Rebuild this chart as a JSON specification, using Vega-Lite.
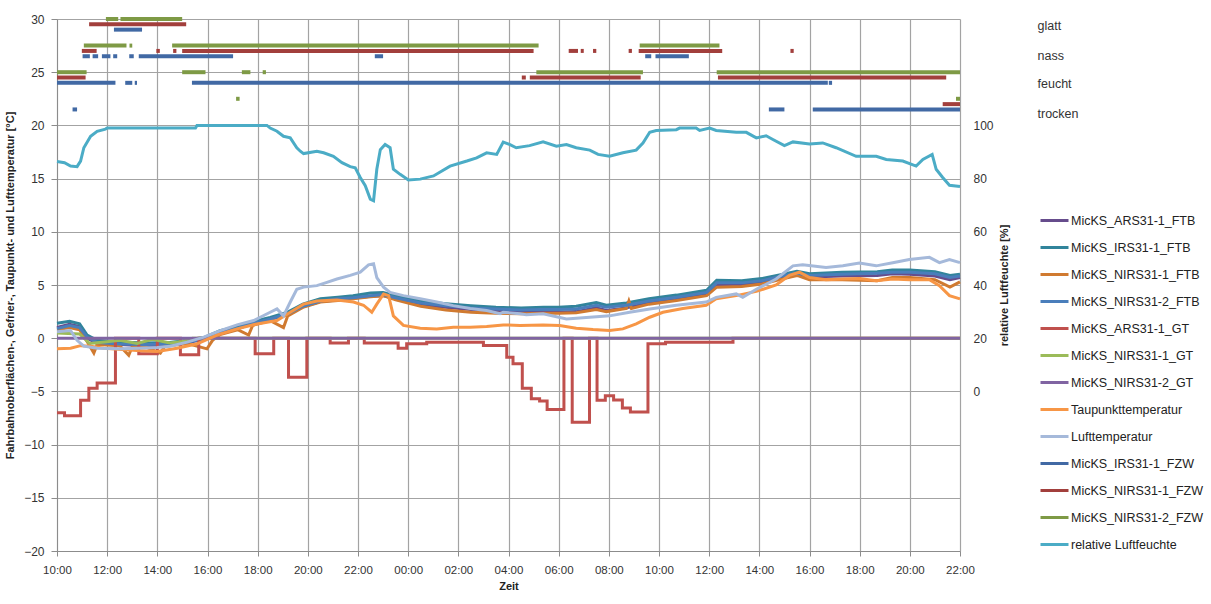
{
  "$schema": "https://vega.github.io/schema/vega-lite/v6.json",
  "width": 903,
  "height": 532,
  "autosize": {"type": "none"},
  "padding": {"left": 57, "top": 19, "right": 251, "bottom": 53},
  "background": "white",
  "config": {
    "font": "Liberation Sans",
    "view": {"stroke": null},
    "axis": {"labelFont": "Liberation Sans", "titleFont": "Liberation Sans", "labelColor": "#333333", "titleColor": "#222222", "gridColor": "#A3A3A3", "gridWidth": 1.2, "domainColor": "#8C8C8C", "tickColor": "#8C8C8C"}
  },
  "datasets": {
    "ftb": [
      {"s":"MicKS_ARS31-1_FTB","h":10.0,"v":1.0},{"s":"MicKS_ARS31-1_FTB","h":10.5,"v":1.3},{"s":"MicKS_ARS31-1_FTB","h":10.9,"v":1.1},{"s":"MicKS_ARS31-1_FTB","h":11.2,"v":0.0},{"s":"MicKS_ARS31-1_FTB","h":11.6,"v":-0.5},{"s":"MicKS_ARS31-1_FTB","h":12.5,"v":-0.6},{"s":"MicKS_ARS31-1_FTB","h":13.5,"v":-0.7},{"s":"MicKS_ARS31-1_FTB","h":14.5,"v":-0.6},{"s":"MicKS_ARS31-1_FTB","h":15.2,"v":-0.4},{"s":"MicKS_ARS31-1_FTB","h":15.9,"v":-0.1},{"s":"MicKS_ARS31-1_FTB","h":16.5,"v":0.45},{"s":"MicKS_ARS31-1_FTB","h":17.2,"v":0.9},{"s":"MicKS_ARS31-1_FTB","h":17.8,"v":1.35},{"s":"MicKS_ARS31-1_FTB","h":18.5,"v":1.75},{"s":"MicKS_ARS31-1_FTB","h":19.2,"v":2.25},{"s":"MicKS_ARS31-1_FTB","h":19.8,"v":2.95},{"s":"MicKS_ARS31-1_FTB","h":20.5,"v":3.45},{"s":"MicKS_ARS31-1_FTB","h":21.2,"v":3.6},{"s":"MicKS_ARS31-1_FTB","h":21.8,"v":3.75},{"s":"MicKS_ARS31-1_FTB","h":22.5,"v":3.95},{"s":"MicKS_ARS31-1_FTB","h":23.0,"v":4.0},{"s":"MicKS_ARS31-1_FTB","h":23.5,"v":3.7},{"s":"MicKS_ARS31-1_FTB","h":24.5,"v":3.15},{"s":"MicKS_ARS31-1_FTB","h":25.5,"v":2.9},{"s":"MicKS_ARS31-1_FTB","h":26.5,"v":2.7},{"s":"MicKS_ARS31-1_FTB","h":27.5,"v":2.55},{"s":"MicKS_ARS31-1_FTB","h":28.5,"v":2.45},{"s":"MicKS_ARS31-1_FTB","h":29.4,"v":2.5},{"s":"MicKS_ARS31-1_FTB","h":30.0,"v":2.45},{"s":"MicKS_ARS31-1_FTB","h":30.7,"v":2.5},{"s":"MicKS_ARS31-1_FTB","h":31.5,"v":2.85},{"s":"MicKS_ARS31-1_FTB","h":31.9,"v":2.6},{"s":"MicKS_ARS31-1_FTB","h":32.7,"v":2.85},{"s":"MicKS_ARS31-1_FTB","h":33.6,"v":3.3},{"s":"MicKS_ARS31-1_FTB","h":34.7,"v":3.7},{"s":"MicKS_ARS31-1_FTB","h":35.9,"v":4.1},{"s":"MicKS_ARS31-1_FTB","h":36.3,"v":5.0},{"s":"MicKS_ARS31-1_FTB","h":37.3,"v":5.0},{"s":"MicKS_ARS31-1_FTB","h":38.1,"v":5.25},{"s":"MicKS_ARS31-1_FTB","h":38.9,"v":5.7},{"s":"MicKS_ARS31-1_FTB","h":39.5,"v":6.0},{"s":"MicKS_ARS31-1_FTB","h":40.0,"v":5.75},{"s":"MicKS_ARS31-1_FTB","h":41.3,"v":5.85},{"s":"MicKS_ARS31-1_FTB","h":42.7,"v":5.9},{"s":"MicKS_ARS31-1_FTB","h":43.3,"v":6.05},{"s":"MicKS_ARS31-1_FTB","h":44.0,"v":6.0},{"s":"MicKS_ARS31-1_FTB","h":45.0,"v":5.85},{"s":"MicKS_ARS31-1_FTB","h":45.6,"v":5.5},{"s":"MicKS_ARS31-1_FTB","h":46.0,"v":5.7},
      {"s":"MicKS_IRS31-1_FTB","h":10.0,"v":1.4},{"s":"MicKS_IRS31-1_FTB","h":10.5,"v":1.6},{"s":"MicKS_IRS31-1_FTB","h":10.9,"v":1.35},{"s":"MicKS_IRS31-1_FTB","h":11.2,"v":0.3},{"s":"MicKS_IRS31-1_FTB","h":11.6,"v":-0.2},{"s":"MicKS_IRS31-1_FTB","h":12.5,"v":-0.35},{"s":"MicKS_IRS31-1_FTB","h":13.5,"v":-0.45},{"s":"MicKS_IRS31-1_FTB","h":14.5,"v":-0.4},{"s":"MicKS_IRS31-1_FTB","h":15.2,"v":-0.2},{"s":"MicKS_IRS31-1_FTB","h":15.9,"v":0.1},{"s":"MicKS_IRS31-1_FTB","h":16.5,"v":0.7},{"s":"MicKS_IRS31-1_FTB","h":17.2,"v":1.1},{"s":"MicKS_IRS31-1_FTB","h":17.8,"v":1.55},{"s":"MicKS_IRS31-1_FTB","h":18.5,"v":1.95},{"s":"MicKS_IRS31-1_FTB","h":19.2,"v":2.45},{"s":"MicKS_IRS31-1_FTB","h":19.8,"v":3.2},{"s":"MicKS_IRS31-1_FTB","h":20.5,"v":3.7},{"s":"MicKS_IRS31-1_FTB","h":21.2,"v":3.85},{"s":"MicKS_IRS31-1_FTB","h":21.8,"v":4.0},{"s":"MicKS_IRS31-1_FTB","h":22.5,"v":4.25},{"s":"MicKS_IRS31-1_FTB","h":23.0,"v":4.3},{"s":"MicKS_IRS31-1_FTB","h":23.5,"v":4.0},{"s":"MicKS_IRS31-1_FTB","h":24.5,"v":3.5},{"s":"MicKS_IRS31-1_FTB","h":25.5,"v":3.25},{"s":"MicKS_IRS31-1_FTB","h":26.5,"v":3.05},{"s":"MicKS_IRS31-1_FTB","h":27.5,"v":2.9},{"s":"MicKS_IRS31-1_FTB","h":28.5,"v":2.85},{"s":"MicKS_IRS31-1_FTB","h":29.4,"v":2.9},{"s":"MicKS_IRS31-1_FTB","h":30.0,"v":2.9},{"s":"MicKS_IRS31-1_FTB","h":30.7,"v":3.0},{"s":"MicKS_IRS31-1_FTB","h":31.5,"v":3.35},{"s":"MicKS_IRS31-1_FTB","h":31.9,"v":3.1},{"s":"MicKS_IRS31-1_FTB","h":32.7,"v":3.3},{"s":"MicKS_IRS31-1_FTB","h":33.6,"v":3.7},{"s":"MicKS_IRS31-1_FTB","h":34.7,"v":4.05},{"s":"MicKS_IRS31-1_FTB","h":35.9,"v":4.5},{"s":"MicKS_IRS31-1_FTB","h":36.3,"v":5.45},{"s":"MicKS_IRS31-1_FTB","h":37.3,"v":5.4},{"s":"MicKS_IRS31-1_FTB","h":38.1,"v":5.6},{"s":"MicKS_IRS31-1_FTB","h":38.9,"v":6.0},{"s":"MicKS_IRS31-1_FTB","h":39.5,"v":6.3},{"s":"MicKS_IRS31-1_FTB","h":40.0,"v":6.05},{"s":"MicKS_IRS31-1_FTB","h":41.3,"v":6.2},{"s":"MicKS_IRS31-1_FTB","h":42.7,"v":6.25},{"s":"MicKS_IRS31-1_FTB","h":43.3,"v":6.4},{"s":"MicKS_IRS31-1_FTB","h":44.0,"v":6.4},{"s":"MicKS_IRS31-1_FTB","h":45.0,"v":6.25},{"s":"MicKS_IRS31-1_FTB","h":45.6,"v":5.9},{"s":"MicKS_IRS31-1_FTB","h":46.0,"v":6.0},
      {"s":"MicKS_NIRS31-1_FTB","h":10.0,"v":0.8},{"s":"MicKS_NIRS31-1_FTB","h":10.5,"v":1.0},{"s":"MicKS_NIRS31-1_FTB","h":10.9,"v":0.8},{"s":"MicKS_NIRS31-1_FTB","h":11.2,"v":-0.3},{"s":"MicKS_NIRS31-1_FTB","h":11.47,"v":-1.4},{"s":"MicKS_NIRS31-1_FTB","h":11.6,"v":-0.6},{"s":"MicKS_NIRS31-1_FTB","h":12.5,"v":-0.7},{"s":"MicKS_NIRS31-1_FTB","h":12.86,"v":-1.6},{"s":"MicKS_NIRS31-1_FTB","h":13.0,"v":-0.8},{"s":"MicKS_NIRS31-1_FTB","h":13.5,"v":-0.8},{"s":"MicKS_NIRS31-1_FTB","h":14.12,"v":-1.4},{"s":"MicKS_NIRS31-1_FTB","h":14.3,"v":-0.75},{"s":"MicKS_NIRS31-1_FTB","h":15.2,"v":-0.5},{"s":"MicKS_NIRS31-1_FTB","h":15.98,"v":-1.0},{"s":"MicKS_NIRS31-1_FTB","h":16.2,"v":-0.2},{"s":"MicKS_NIRS31-1_FTB","h":16.5,"v":0.35},{"s":"MicKS_NIRS31-1_FTB","h":17.2,"v":0.8},{"s":"MicKS_NIRS31-1_FTB","h":17.64,"v":0.3},{"s":"MicKS_NIRS31-1_FTB","h":17.8,"v":1.2},{"s":"MicKS_NIRS31-1_FTB","h":18.5,"v":1.65},{"s":"MicKS_NIRS31-1_FTB","h":19.03,"v":1.0},{"s":"MicKS_NIRS31-1_FTB","h":19.2,"v":2.1},{"s":"MicKS_NIRS31-1_FTB","h":19.8,"v":2.9},{"s":"MicKS_NIRS31-1_FTB","h":20.5,"v":3.4},{"s":"MicKS_NIRS31-1_FTB","h":21.2,"v":3.55},{"s":"MicKS_NIRS31-1_FTB","h":21.8,"v":3.7},{"s":"MicKS_NIRS31-1_FTB","h":22.5,"v":3.9},{"s":"MicKS_NIRS31-1_FTB","h":23.0,"v":4.0},{"s":"MicKS_NIRS31-1_FTB","h":23.5,"v":3.6},{"s":"MicKS_NIRS31-1_FTB","h":24.5,"v":3.0},{"s":"MicKS_NIRS31-1_FTB","h":25.5,"v":2.65},{"s":"MicKS_NIRS31-1_FTB","h":26.5,"v":2.45},{"s":"MicKS_NIRS31-1_FTB","h":27.5,"v":2.35},{"s":"MicKS_NIRS31-1_FTB","h":28.5,"v":2.3},{"s":"MicKS_NIRS31-1_FTB","h":29.4,"v":2.35},{"s":"MicKS_NIRS31-1_FTB","h":30.0,"v":2.35},{"s":"MicKS_NIRS31-1_FTB","h":30.7,"v":2.4},{"s":"MicKS_NIRS31-1_FTB","h":31.5,"v":2.7},{"s":"MicKS_NIRS31-1_FTB","h":31.9,"v":2.5},{"s":"MicKS_NIRS31-1_FTB","h":32.7,"v":2.8},{"s":"MicKS_NIRS31-1_FTB","h":32.8,"v":3.5},{"s":"MicKS_NIRS31-1_FTB","h":32.9,"v":2.8},{"s":"MicKS_NIRS31-1_FTB","h":33.6,"v":3.2},{"s":"MicKS_NIRS31-1_FTB","h":34.7,"v":3.55},{"s":"MicKS_NIRS31-1_FTB","h":35.9,"v":4.0},{"s":"MicKS_NIRS31-1_FTB","h":36.3,"v":4.8},{"s":"MicKS_NIRS31-1_FTB","h":37.3,"v":4.85},{"s":"MicKS_NIRS31-1_FTB","h":38.1,"v":5.1},{"s":"MicKS_NIRS31-1_FTB","h":38.9,"v":5.55},{"s":"MicKS_NIRS31-1_FTB","h":39.5,"v":5.9},{"s":"MicKS_NIRS31-1_FTB","h":40.0,"v":5.5},{"s":"MicKS_NIRS31-1_FTB","h":41.3,"v":5.5},{"s":"MicKS_NIRS31-1_FTB","h":42.7,"v":5.4},{"s":"MicKS_NIRS31-1_FTB","h":43.3,"v":5.7},{"s":"MicKS_NIRS31-1_FTB","h":44.0,"v":5.7},{"s":"MicKS_NIRS31-1_FTB","h":45.0,"v":5.5},{"s":"MicKS_NIRS31-1_FTB","h":45.6,"v":4.8},{"s":"MicKS_NIRS31-1_FTB","h":46.0,"v":5.3},
      {"s":"MicKS_NIRS31-2_FTB","h":10.0,"v":0.9},{"s":"MicKS_NIRS31-2_FTB","h":10.5,"v":1.2},{"s":"MicKS_NIRS31-2_FTB","h":10.9,"v":1.0},{"s":"MicKS_NIRS31-2_FTB","h":11.2,"v":0.1},{"s":"MicKS_NIRS31-2_FTB","h":11.6,"v":-0.4},{"s":"MicKS_NIRS31-2_FTB","h":12.5,"v":-0.55},{"s":"MicKS_NIRS31-2_FTB","h":13.5,"v":-0.6},{"s":"MicKS_NIRS31-2_FTB","h":14.5,"v":-0.55},{"s":"MicKS_NIRS31-2_FTB","h":15.2,"v":-0.35},{"s":"MicKS_NIRS31-2_FTB","h":15.9,"v":-0.05},{"s":"MicKS_NIRS31-2_FTB","h":16.5,"v":0.5},{"s":"MicKS_NIRS31-2_FTB","h":17.2,"v":0.95},{"s":"MicKS_NIRS31-2_FTB","h":17.8,"v":1.4},{"s":"MicKS_NIRS31-2_FTB","h":18.5,"v":1.8},{"s":"MicKS_NIRS31-2_FTB","h":19.2,"v":2.3},{"s":"MicKS_NIRS31-2_FTB","h":19.8,"v":3.0},{"s":"MicKS_NIRS31-2_FTB","h":20.5,"v":3.5},{"s":"MicKS_NIRS31-2_FTB","h":21.2,"v":3.7},{"s":"MicKS_NIRS31-2_FTB","h":21.8,"v":3.8},{"s":"MicKS_NIRS31-2_FTB","h":22.5,"v":4.0},{"s":"MicKS_NIRS31-2_FTB","h":23.0,"v":4.1},{"s":"MicKS_NIRS31-2_FTB","h":23.5,"v":3.8},{"s":"MicKS_NIRS31-2_FTB","h":24.5,"v":3.3},{"s":"MicKS_NIRS31-2_FTB","h":25.5,"v":3.05},{"s":"MicKS_NIRS31-2_FTB","h":26.5,"v":2.85},{"s":"MicKS_NIRS31-2_FTB","h":27.5,"v":2.75},{"s":"MicKS_NIRS31-2_FTB","h":28.5,"v":2.65},{"s":"MicKS_NIRS31-2_FTB","h":29.4,"v":2.7},{"s":"MicKS_NIRS31-2_FTB","h":30.0,"v":2.7},{"s":"MicKS_NIRS31-2_FTB","h":30.7,"v":2.75},{"s":"MicKS_NIRS31-2_FTB","h":31.5,"v":3.1},{"s":"MicKS_NIRS31-2_FTB","h":31.9,"v":2.9},{"s":"MicKS_NIRS31-2_FTB","h":32.7,"v":3.1},{"s":"MicKS_NIRS31-2_FTB","h":33.6,"v":3.5},{"s":"MicKS_NIRS31-2_FTB","h":34.7,"v":3.85},{"s":"MicKS_NIRS31-2_FTB","h":35.9,"v":4.3},{"s":"MicKS_NIRS31-2_FTB","h":36.3,"v":5.2},{"s":"MicKS_NIRS31-2_FTB","h":37.3,"v":5.2},{"s":"MicKS_NIRS31-2_FTB","h":38.1,"v":5.4},{"s":"MicKS_NIRS31-2_FTB","h":38.9,"v":5.85},{"s":"MicKS_NIRS31-2_FTB","h":39.5,"v":6.1},{"s":"MicKS_NIRS31-2_FTB","h":40.0,"v":5.9},{"s":"MicKS_NIRS31-2_FTB","h":41.3,"v":6.0},{"s":"MicKS_NIRS31-2_FTB","h":42.7,"v":6.1},{"s":"MicKS_NIRS31-2_FTB","h":43.3,"v":6.2},{"s":"MicKS_NIRS31-2_FTB","h":44.0,"v":6.2},{"s":"MicKS_NIRS31-2_FTB","h":45.0,"v":6.05},{"s":"MicKS_NIRS31-2_FTB","h":45.6,"v":5.7},{"s":"MicKS_NIRS31-2_FTB","h":46.0,"v":5.85}
    ],
    "gt": [
      {"s":"MicKS_ARS31-1_GT","h":10.0,"v":-7.0},{"s":"MicKS_ARS31-1_GT","h":10.3,"v":-7.3},{"s":"MicKS_ARS31-1_GT","h":10.94,"v":-5.84},{"s":"MicKS_ARS31-1_GT","h":11.27,"v":-4.7},{"s":"MicKS_ARS31-1_GT","h":11.6,"v":-4.2},{"s":"MicKS_ARS31-1_GT","h":12.33,"v":0},{"s":"MicKS_ARS31-1_GT","h":13.26,"v":-1.47},{"s":"MicKS_ARS31-1_GT","h":14.0,"v":0},{"s":"MicKS_ARS31-1_GT","h":14.92,"v":-1.56},{"s":"MicKS_ARS31-1_GT","h":15.65,"v":0},{"s":"MicKS_ARS31-1_GT","h":17.9,"v":-1.47},{"s":"MicKS_ARS31-1_GT","h":18.64,"v":0},{"s":"MicKS_ARS31-1_GT","h":19.23,"v":-3.66},{"s":"MicKS_ARS31-1_GT","h":19.96,"v":0},{"s":"MicKS_ARS31-1_GT","h":20.89,"v":-0.44},{"s":"MicKS_ARS31-1_GT","h":21.62,"v":0},{"s":"MicKS_ARS31-1_GT","h":22.25,"v":-0.44},{"s":"MicKS_ARS31-1_GT","h":23.6,"v":-0.94},{"s":"MicKS_ARS31-1_GT","h":23.94,"v":-0.53},{"s":"MicKS_ARS31-1_GT","h":24.74,"v":-0.375},{"s":"MicKS_ARS31-1_GT","h":27.0,"v":-0.69},{"s":"MicKS_ARS31-1_GT","h":27.93,"v":-1.78},{"s":"MicKS_ARS31-1_GT","h":28.18,"v":-2.4},{"s":"MicKS_ARS31-1_GT","h":28.55,"v":-4.7},{"s":"MicKS_ARS31-1_GT","h":28.91,"v":-5.7},{"s":"MicKS_ARS31-1_GT","h":29.24,"v":-5.9},{"s":"MicKS_ARS31-1_GT","h":29.54,"v":-6.7},{"s":"MicKS_ARS31-1_GT","h":30.21,"v":0},{"s":"MicKS_ARS31-1_GT","h":30.54,"v":-7.9},{"s":"MicKS_ARS31-1_GT","h":31.23,"v":0},{"s":"MicKS_ARS31-1_GT","h":31.53,"v":-5.84},{"s":"MicKS_ARS31-1_GT","h":31.86,"v":-5.4},{"s":"MicKS_ARS31-1_GT","h":32.19,"v":-5.8},{"s":"MicKS_ARS31-1_GT","h":32.54,"v":-6.56},{"s":"MicKS_ARS31-1_GT","h":32.86,"v":-6.94},{"s":"MicKS_ARS31-1_GT","h":33.56,"v":-0.53},{"s":"MicKS_ARS31-1_GT","h":34.26,"v":-0.375},{"s":"MicKS_ARS31-1_GT","h":36.95,"v":0},{"s":"MicKS_ARS31-1_GT","h":46.0,"v":0}
    ],
    "oth": [
      {"s":"MicKS_NIRS31-1_GT","h":10.0,"v":0.5},{"s":"MicKS_NIRS31-1_GT","h":10.9,"v":0.4},{"s":"MicKS_NIRS31-1_GT","h":11.3,"v":-0.5},{"s":"MicKS_NIRS31-1_GT","h":11.9,"v":-0.35},{"s":"MicKS_NIRS31-1_GT","h":12.5,"v":-0.2},{"s":"MicKS_NIRS31-1_GT","h":13.2,"v":-0.5},{"s":"MicKS_NIRS31-1_GT","h":13.8,"v":-0.1},{"s":"MicKS_NIRS31-1_GT","h":14.5,"v":-0.45},{"s":"MicKS_NIRS31-1_GT","h":15.0,"v":-0.3},{"s":"MicKS_NIRS31-1_GT","h":15.4,"v":0.0},{"s":"MicKS_NIRS31-1_GT","h":46.0,"v":0.0},
      {"s":"MicKS_NIRS31-2_GT","h":10.0,"v":0},{"s":"MicKS_NIRS31-2_GT","h":46.0,"v":0},
      {"s":"Taupunkttemperatur","h":10.0,"v":-1.0},{"s":"Taupunkttemperatur","h":10.54,"v":-0.94},{"s":"Taupunkttemperatur","h":10.94,"v":-0.7},{"s":"Taupunkttemperatur","h":11.34,"v":-0.75},{"s":"Taupunkttemperatur","h":11.87,"v":-0.94},{"s":"Taupunkttemperatur","h":13.19,"v":-1.16},{"s":"Taupunkttemperatur","h":13.99,"v":-1.25},{"s":"Taupunkttemperatur","h":14.79,"v":-0.94},{"s":"Taupunkttemperatur","h":15.59,"v":-0.53},{"s":"Taupunkttemperatur","h":16.38,"v":0.3},{"s":"Taupunkttemperatur","h":17.18,"v":0.875},{"s":"Taupunkttemperatur","h":17.97,"v":1.34},{"s":"Taupunkttemperatur","h":18.77,"v":1.66},{"s":"Taupunkttemperatur","h":19.3,"v":2.44},{"s":"Taupunkttemperatur","h":19.83,"v":3.2},{"s":"Taupunkttemperatur","h":20.36,"v":3.5},{"s":"Taupunkttemperatur","h":21.16,"v":3.6},{"s":"Taupunkttemperatur","h":21.82,"v":3.4},{"s":"Taupunkttemperatur","h":22.22,"v":3.1},{"s":"Taupunkttemperatur","h":22.55,"v":2.44},{"s":"Taupunkttemperatur","h":22.75,"v":3.2},{"s":"Taupunkttemperatur","h":23.02,"v":4.16},{"s":"Taupunkttemperatur","h":23.22,"v":4.0},{"s":"Taupunkttemperatur","h":23.41,"v":2.1},{"s":"Taupunkttemperatur","h":23.81,"v":1.2},{"s":"Taupunkttemperatur","h":24.48,"v":0.94},{"s":"Taupunkttemperatur","h":25.14,"v":0.875},{"s":"Taupunkttemperatur","h":25.8,"v":1.03},{"s":"Taupunkttemperatur","h":26.47,"v":1.03},{"s":"Taupunkttemperatur","h":27.13,"v":1.1},{"s":"Taupunkttemperatur","h":27.79,"v":1.25},{"s":"Taupunkttemperatur","h":28.46,"v":1.2},{"s":"Taupunkttemperatur","h":29.38,"v":1.25},{"s":"Taupunkttemperatur","h":30.04,"v":1.2},{"s":"Taupunkttemperatur","h":30.7,"v":0.94},{"s":"Taupunkttemperatur","h":31.37,"v":0.81},{"s":"Taupunkttemperatur","h":32.03,"v":0.72},{"s":"Taupunkttemperatur","h":32.56,"v":0.875},{"s":"Taupunkttemperatur","h":33.09,"v":1.34},{"s":"Taupunkttemperatur","h":33.63,"v":1.97},{"s":"Taupunkttemperatur","h":34.16,"v":2.44},{"s":"Taupunkttemperatur","h":34.95,"v":2.8},{"s":"Taupunkttemperatur","h":35.88,"v":3.1},{"s":"Taupunkttemperatur","h":36.28,"v":3.7},{"s":"Taupunkttemperatur","h":37.08,"v":4.0},{"s":"Taupunkttemperatur","h":37.88,"v":4.4},{"s":"Taupunkttemperatur","h":38.67,"v":5.0},{"s":"Taupunkttemperatur","h":39.2,"v":5.9},{"s":"Taupunkttemperatur","h":39.6,"v":6.2},{"s":"Taupunkttemperatur","h":40.0,"v":5.7},{"s":"Taupunkttemperatur","h":40.66,"v":5.5},{"s":"Taupunkttemperatur","h":41.33,"v":5.56},{"s":"Taupunkttemperatur","h":41.99,"v":5.6},{"s":"Taupunkttemperatur","h":42.66,"v":5.4},{"s":"Taupunkttemperatur","h":43.32,"v":5.56},{"s":"Taupunkttemperatur","h":43.98,"v":5.5},{"s":"Taupunkttemperatur","h":44.78,"v":5.5},{"s":"Taupunkttemperatur","h":45.18,"v":4.94},{"s":"Taupunkttemperatur","h":45.58,"v":4.0},{"s":"Taupunkttemperatur","h":46.0,"v":3.7},
      {"s":"Lufttemperatur","h":10.0,"v":0.6},{"s":"Lufttemperatur","h":10.54,"v":0.72},{"s":"Lufttemperatur","h":10.8,"v":-0.2},{"s":"Lufttemperatur","h":11.07,"v":-0.75},{"s":"Lufttemperatur","h":11.6,"v":-0.94},{"s":"Lufttemperatur","h":12.53,"v":-1.0},{"s":"Lufttemperatur","h":13.19,"v":-0.94},{"s":"Lufttemperatur","h":13.99,"v":-0.87},{"s":"Lufttemperatur","h":14.52,"v":-0.75},{"s":"Lufttemperatur","h":15.19,"v":-0.37},{"s":"Lufttemperatur","h":15.85,"v":0.1},{"s":"Lufttemperatur","h":16.51,"v":0.72},{"s":"Lufttemperatur","h":17.18,"v":1.25},{"s":"Lufttemperatur","h":17.84,"v":1.66},{"s":"Lufttemperatur","h":18.5,"v":2.44},{"s":"Lufttemperatur","h":18.77,"v":2.75},{"s":"Lufttemperatur","h":19.03,"v":2.1},{"s":"Lufttemperatur","h":19.3,"v":3.4},{"s":"Lufttemperatur","h":19.56,"v":4.6},{"s":"Lufttemperatur","h":19.83,"v":4.8},{"s":"Lufttemperatur","h":20.36,"v":4.94},{"s":"Lufttemperatur","h":20.76,"v":5.25},{"s":"Lufttemperatur","h":21.16,"v":5.56},{"s":"Lufttemperatur","h":21.69,"v":5.9},{"s":"Lufttemperatur","h":22.09,"v":6.2},{"s":"Lufttemperatur","h":22.42,"v":6.9},{"s":"Lufttemperatur","h":22.62,"v":7.0},{"s":"Lufttemperatur","h":22.75,"v":5.7},{"s":"Lufttemperatur","h":23.02,"v":4.8},{"s":"Lufttemperatur","h":23.28,"v":4.3},{"s":"Lufttemperatur","h":23.81,"v":4.0},{"s":"Lufttemperatur","h":24.48,"v":3.7},{"s":"Lufttemperatur","h":25.14,"v":3.4},{"s":"Lufttemperatur","h":25.8,"v":3.06},{"s":"Lufttemperatur","h":26.47,"v":2.8},{"s":"Lufttemperatur","h":27.13,"v":2.6},{"s":"Lufttemperatur","h":27.66,"v":2.3},{"s":"Lufttemperatur","h":27.79,"v":2.44},{"s":"Lufttemperatur","h":28.46,"v":2.3},{"s":"Lufttemperatur","h":28.71,"v":2.2},{"s":"Lufttemperatur","h":29.38,"v":2.3},{"s":"Lufttemperatur","h":30.31,"v":1.8},{"s":"Lufttemperatur","h":31.37,"v":2.0},{"s":"Lufttemperatur","h":32.03,"v":2.1},{"s":"Lufttemperatur","h":32.83,"v":2.44},{"s":"Lufttemperatur","h":33.63,"v":2.75},{"s":"Lufttemperatur","h":34.69,"v":3.1},{"s":"Lufttemperatur","h":35.88,"v":3.4},{"s":"Lufttemperatur","h":36.28,"v":3.84},{"s":"Lufttemperatur","h":37.08,"v":4.16},{"s":"Lufttemperatur","h":37.34,"v":3.84},{"s":"Lufttemperatur","h":37.88,"v":4.6},{"s":"Lufttemperatur","h":38.67,"v":5.56},{"s":"Lufttemperatur","h":39.34,"v":6.8},{"s":"Lufttemperatur","h":39.73,"v":6.9},{"s":"Lufttemperatur","h":40.66,"v":6.65},{"s":"Lufttemperatur","h":41.33,"v":6.8},{"s":"Lufttemperatur","h":41.99,"v":7.06},{"s":"Lufttemperatur","h":42.66,"v":6.8},{"s":"Lufttemperatur","h":43.32,"v":7.1},{"s":"Lufttemperatur","h":43.98,"v":7.4},{"s":"Lufttemperatur","h":44.78,"v":7.6},{"s":"Lufttemperatur","h":45.18,"v":7.1},{"s":"Lufttemperatur","h":45.58,"v":7.4},{"s":"Lufttemperatur","h":46.0,"v":7.1}
    ],
    "rh": [
      {"s":"relative Luftfeuchte","h":10.0,"v":86.4},{"s":"relative Luftfeuchte","h":10.3,"v":86.0},{"s":"relative Luftfeuchte","h":10.54,"v":84.7},{"s":"relative Luftfeuchte","h":10.8,"v":84.5},{"s":"relative Luftfeuchte","h":10.94,"v":86.6},{"s":"relative Luftfeuchte","h":11.07,"v":91.6},{"s":"relative Luftfeuchte","h":11.34,"v":95.9},{"s":"relative Luftfeuchte","h":11.6,"v":97.8},{"s":"relative Luftfeuchte","h":11.93,"v":98.6},{"s":"relative Luftfeuchte","h":12.0,"v":99.0},{"s":"relative Luftfeuchte","h":15.52,"v":99.0},{"s":"relative Luftfeuchte","h":15.58,"v":100},{"s":"relative Luftfeuchte","h":18.37,"v":100},{"s":"relative Luftfeuchte","h":18.5,"v":99},{"s":"relative Luftfeuchte","h":18.77,"v":97.8},{"s":"relative Luftfeuchte","h":19.03,"v":95.9},{"s":"relative Luftfeuchte","h":19.3,"v":95.3},{"s":"relative Luftfeuchte","h":19.56,"v":91.6},{"s":"relative Luftfeuchte","h":19.7,"v":90.3},{"s":"relative Luftfeuchte","h":19.83,"v":89.4},{"s":"relative Luftfeuchte","h":20.36,"v":90.3},{"s":"relative Luftfeuchte","h":20.63,"v":89.7},{"s":"relative Luftfeuchte","h":21.02,"v":88.4},{"s":"relative Luftfeuchte","h":21.36,"v":86},{"s":"relative Luftfeuchte","h":21.69,"v":84.5},{"s":"relative Luftfeuchte","h":21.89,"v":84.1},{"s":"relative Luftfeuchte","h":22.09,"v":80.4},{"s":"relative Luftfeuchte","h":22.29,"v":77.3},{"s":"relative Luftfeuchte","h":22.49,"v":72.3},{"s":"relative Luftfeuchte","h":22.62,"v":71.7},{"s":"relative Luftfeuchte","h":22.75,"v":83.5},{"s":"relative Luftfeuchte","h":22.89,"v":90.9},{"s":"relative Luftfeuchte","h":23.08,"v":92.8},{"s":"relative Luftfeuchte","h":23.28,"v":91.6},{"s":"relative Luftfeuchte","h":23.41,"v":83.5},{"s":"relative Luftfeuchte","h":23.68,"v":81.6},{"s":"relative Luftfeuchte","h":24.01,"v":79.5},{"s":"relative Luftfeuchte","h":24.48,"v":79.8},{"s":"relative Luftfeuchte","h":25.01,"v":81},{"s":"relative Luftfeuchte","h":25.67,"v":84.7},{"s":"relative Luftfeuchte","h":26.34,"v":86.6},{"s":"relative Luftfeuchte","h":26.73,"v":87.8},{"s":"relative Luftfeuchte","h":27.13,"v":89.7},{"s":"relative Luftfeuchte","h":27.53,"v":89.1},{"s":"relative Luftfeuchte","h":27.79,"v":93.7},{"s":"relative Luftfeuchte","h":28.06,"v":92.8},{"s":"relative Luftfeuchte","h":28.31,"v":91.6},{"s":"relative Luftfeuchte","h":28.84,"v":92.4},{"s":"relative Luftfeuchte","h":29.38,"v":93.8},{"s":"relative Luftfeuchte","h":29.91,"v":92.2},{"s":"relative Luftfeuchte","h":30.31,"v":92.8},{"s":"relative Luftfeuchte","h":30.7,"v":91.6},{"s":"relative Luftfeuchte","h":31.24,"v":90.7},{"s":"relative Luftfeuchte","h":31.57,"v":89.1},{"s":"relative Luftfeuchte","h":32.03,"v":88.4},{"s":"relative Luftfeuchte","h":32.56,"v":89.7},{"s":"relative Luftfeuchte","h":33.09,"v":90.7},{"s":"relative Luftfeuchte","h":33.36,"v":93.4},{"s":"relative Luftfeuchte","h":33.63,"v":97.4},{"s":"relative Luftfeuchte","h":33.89,"v":98.1},{"s":"relative Luftfeuchte","h":34.69,"v":98.4},{"s":"relative Luftfeuchte","h":34.82,"v":99},{"s":"relative Luftfeuchte","h":35.48,"v":99},{"s":"relative Luftfeuchte","h":35.62,"v":98.1},{"s":"relative Luftfeuchte","h":36.02,"v":99},{"s":"relative Luftfeuchte","h":36.28,"v":98.1},{"s":"relative Luftfeuchte","h":37.08,"v":97.4},{"s":"relative Luftfeuchte","h":37.48,"v":97.4},{"s":"relative Luftfeuchte","h":37.88,"v":95.3},{"s":"relative Luftfeuchte","h":38.27,"v":96.1},{"s":"relative Luftfeuchte","h":38.54,"v":94.7},{"s":"relative Luftfeuchte","h":39.0,"v":92.4},{"s":"relative Luftfeuchte","h":39.34,"v":93.8},{"s":"relative Luftfeuchte","h":40.0,"v":93.0},{"s":"relative Luftfeuchte","h":40.53,"v":93.4},{"s":"relative Luftfeuchte","h":41.06,"v":91.6},{"s":"relative Luftfeuchte","h":41.86,"v":88.4},{"s":"relative Luftfeuchte","h":42.66,"v":88.4},{"s":"relative Luftfeuchte","h":43.06,"v":87.2},{"s":"relative Luftfeuchte","h":43.72,"v":86.6},{"s":"relative Luftfeuchte","h":44.25,"v":84.7},{"s":"relative Luftfeuchte","h":44.52,"v":87.2},{"s":"relative Luftfeuchte","h":44.89,"v":89.1},{"s":"relative Luftfeuchte","h":45.05,"v":83.5},{"s":"relative Luftfeuchte","h":45.31,"v":80.4},{"s":"relative Luftfeuchte","h":45.58,"v":77.5},{"s":"relative Luftfeuchte","h":46.0,"v":77.0}
    ],
    "fzw": [
      {"s":"MicKS_IRS31-1_FZW","h":12.27,"h2":13.39,"v":29},
      {"s":"MicKS_IRS31-1_FZW","h":11.02,"h2":11.31,"v":26.5},{"s":"MicKS_IRS31-1_FZW","h":11.42,"h2":11.64,"v":26.5},{"s":"MicKS_IRS31-1_FZW","h":11.79,"h2":12.13,"v":26.5},{"s":"MicKS_IRS31-1_FZW","h":12.24,"h2":12.4,"v":26.5},{"s":"MicKS_IRS31-1_FZW","h":12.88,"h2":13.06,"v":26.5},{"s":"MicKS_IRS31-1_FZW","h":13.26,"h2":17.02,"v":26.5},{"s":"MicKS_IRS31-1_FZW","h":22.67,"h2":23.0,"v":26.5},{"s":"MicKS_IRS31-1_FZW","h":33.45,"h2":33.69,"v":26.5},{"s":"MicKS_IRS31-1_FZW","h":33.86,"h2":35.19,"v":26.5},
      {"s":"MicKS_IRS31-1_FZW","h":10.0,"h2":12.33,"v":24},{"s":"MicKS_IRS31-1_FZW","h":12.72,"h2":13.0,"v":24},{"s":"MicKS_IRS31-1_FZW","h":13.1,"h2":13.19,"v":24},{"s":"MicKS_IRS31-1_FZW","h":15.38,"h2":40.73,"v":24},{"s":"MicKS_IRS31-1_FZW","h":40.77,"h2":40.9,"v":24},
      {"s":"MicKS_IRS31-1_FZW","h":10.62,"h2":10.8,"v":21.5},{"s":"MicKS_IRS31-1_FZW","h":38.38,"h2":39.0,"v":21.5},{"s":"MicKS_IRS31-1_FZW","h":40.13,"h2":46.0,"v":21.5},
      {"s":"MicKS_NIRS31-1_FZW","h":11.28,"h2":15.15,"v":29.5},
      {"s":"MicKS_NIRS31-1_FZW","h":10.99,"h2":11.58,"v":27},{"s":"MicKS_NIRS31-1_FZW","h":13.96,"h2":14.1,"v":27},{"s":"MicKS_NIRS31-1_FZW","h":14.63,"h2":14.76,"v":27},{"s":"MicKS_NIRS31-1_FZW","h":14.99,"h2":29.0,"v":27},{"s":"MicKS_NIRS31-1_FZW","h":30.4,"h2":30.77,"v":27},{"s":"MicKS_NIRS31-1_FZW","h":30.88,"h2":31.0,"v":27},{"s":"MicKS_NIRS31-1_FZW","h":31.37,"h2":31.5,"v":27},{"s":"MicKS_NIRS31-1_FZW","h":32.79,"h2":32.92,"v":27},{"s":"MicKS_NIRS31-1_FZW","h":33.19,"h2":36.52,"v":27},{"s":"MicKS_NIRS31-1_FZW","h":39.24,"h2":39.37,"v":27},
      {"s":"MicKS_NIRS31-1_FZW","h":10.0,"h2":11.14,"v":24.5},{"s":"MicKS_NIRS31-1_FZW","h":28.53,"h2":28.69,"v":24.5},{"s":"MicKS_NIRS31-1_FZW","h":28.85,"h2":33.27,"v":24.5},{"s":"MicKS_NIRS31-1_FZW","h":36.35,"h2":45.45,"v":24.5},
      {"s":"MicKS_NIRS31-1_FZW","h":45.31,"h2":46.0,"v":22},
      {"s":"MicKS_NIRS31-2_FZW","h":11.95,"h2":12.44,"v":30},{"s":"MicKS_NIRS31-2_FZW","h":12.53,"h2":14.99,"v":30},
      {"s":"MicKS_NIRS31-2_FZW","h":11.07,"h2":12.77,"v":27.5},{"s":"MicKS_NIRS31-2_FZW","h":12.89,"h2":13.0,"v":27.5},{"s":"MicKS_NIRS31-2_FZW","h":14.59,"h2":29.2,"v":27.5},{"s":"MicKS_NIRS31-2_FZW","h":33.23,"h2":36.41,"v":27.5},
      {"s":"MicKS_NIRS31-2_FZW","h":10.0,"h2":11.18,"v":25},{"s":"MicKS_NIRS31-2_FZW","h":14.99,"h2":15.92,"v":25},{"s":"MicKS_NIRS31-2_FZW","h":17.37,"h2":17.71,"v":25},{"s":"MicKS_NIRS31-2_FZW","h":18.2,"h2":18.33,"v":25},{"s":"MicKS_NIRS31-2_FZW","h":29.11,"h2":33.36,"v":25},{"s":"MicKS_NIRS31-2_FZW","h":36.3,"h2":46.0,"v":25},
      {"s":"MicKS_NIRS31-2_FZW","h":17.14,"h2":17.28,"v":22.5},{"s":"MicKS_NIRS31-2_FZW","h":45.84,"h2":46.0,"v":22.5}
    ]
  },
  "resolve": {"scale": {"y": "independent"}, "axis": {"y": "independent"}},
  "layer": [
    {
      "data": {"name": "ftb"},
      "mark": {"type": "line", "strokeWidth": 3},
      "encoding": {
        "x": {"field": "h", "type": "quantitative", "scale": {"domain": [10, 46], "nice": false, "zero": false},
          "axis": {"values": [10,12,14,16,18,20,22,24,26,28,30,32,34,36,38,40,42,44,46], "labelExpr": "(datum.value % 24 < 10 ? '0' : '') + (datum.value % 24) + ':00'", "title": "Zeit", "titleFontSize": 11, "titleFontWeight": "bold", "labelFontSize": 11.5, "labelPadding": 8, "tickSize": 5, "titlePadding": 5, "grid": true, "labelFlush": false}},
        "y": {"field": "v", "type": "quantitative", "scale": {"domain": [-20, 30], "nice": false, "zero": false},
          "axis": {"values": [-20,-15,-10,-5,0,5,10,15,20,25,30], "title": "Fahrbahnoberflächen-, Gefrier-, Taupunkt- und Lufttemperatur [°C]", "titleFontSize": 11, "titleFontWeight": "bold", "labelFontSize": 12, "tickSize": 6, "labelPadding": 7, "titlePadding": 8, "grid": true}},
        "color": {"field": "s", "type": "nominal",
          "scale": {
            "domain": ["MicKS_ARS31-1_FTB","MicKS_IRS31-1_FTB","MicKS_NIRS31-1_FTB","MicKS_NIRS31-2_FTB","MicKS_ARS31-1_GT","MicKS_NIRS31-1_GT","MicKS_NIRS31-2_GT","Taupunkttemperatur","Lufttemperatur","MicKS_IRS31-1_FZW","MicKS_NIRS31-1_FZW","MicKS_NIRS31-2_FZW","relative Luftfeuchte"],
            "range": ["#664C8C","#31849B","#D07A30","#4A7EBB","#C0504D","#9BBB59","#8064A2","#F79646","#A5B9DA","#4169A4","#A23F3C","#7E9A45","#4BACC6"]
          },
          "legend": {
            "orient": "none", "legendX": 982, "legendY": 186, "title": null,
            "symbolType": "stroke", "symbolSize": 784, "symbolStrokeWidth": 3,
            "labelFont": "Liberation Sans", "labelFontSize": 12.5, "labelColor": "#222222", "labelOffset": 1, "rowPadding": 5, "labelLimit": 200
          }
        }
      }
    },
    {
      "data": {"name": "gt"},
      "mark": {"type": "line", "strokeWidth": 3, "interpolate": "step-after"},
      "encoding": {
        "x": {"field": "h", "type": "quantitative", "scale": {"domain": [10, 46], "nice": false, "zero": false}},
        "y": {"field": "v", "type": "quantitative", "scale": {"domain": [-20, 30], "nice": false, "zero": false}, "axis": null},
        "color": {"field": "s", "type": "nominal"}
      }
    },
    {
      "data": {"name": "oth"},
      "mark": {"type": "line", "strokeWidth": 3},
      "encoding": {
        "x": {"field": "h", "type": "quantitative", "scale": {"domain": [10, 46], "nice": false, "zero": false}},
        "y": {"field": "v", "type": "quantitative", "scale": {"domain": [-20, 30], "nice": false, "zero": false}, "axis": null},
        "color": {"field": "s", "type": "nominal"}
      }
    },
    {
      "data": {"name": "rh"},
      "mark": {"type": "line", "strokeWidth": 3},
      "encoding": {
        "x": {"field": "h", "type": "quantitative", "scale": {"domain": [10, 46], "nice": false, "zero": false}},
        "y": {"field": "v", "type": "quantitative", "scale": {"domain": [-60, 140], "nice": false, "zero": false},
          "axis": {"orient": "right", "values": [0,20,40,60,80,100], "grid": false, "domain": false, "ticks": false, "labelPadding": 13, "labelFontSize": 12, "title": "relative Luftfeuchte [%]", "titleFontSize": 11, "titleFontWeight": "bold", "titleAngle": 270, "titlePadding": 16}},
        "color": {"field": "s", "type": "nominal"}
      }
    },
    {
      "data": {"name": "fzw"},
      "mark": {"type": "rule", "strokeWidth": 4},
      "encoding": {
        "x": {"field": "h", "type": "quantitative", "scale": {"domain": [10, 46], "nice": false, "zero": false}},
        "x2": {"field": "h2"},
        "y": {"field": "v", "type": "quantitative", "scale": {"domain": [-20, 30], "nice": false, "zero": false},
          "axis": {"orient": "right", "offset": 75, "values": [21.1, 23.9, 26.6, 29.35], "labelExpr": "datum.value > 28 ? 'glatt' : datum.value > 25 ? 'nass' : datum.value > 22.5 ? 'feucht' : 'trocken'", "grid": false, "domain": false, "ticks": false, "labelPadding": 2, "labelFontSize": 12.5, "labelAlign": "left", "title": null}},
        "color": {"field": "s", "type": "nominal"}
      }
    }
  ]
}
